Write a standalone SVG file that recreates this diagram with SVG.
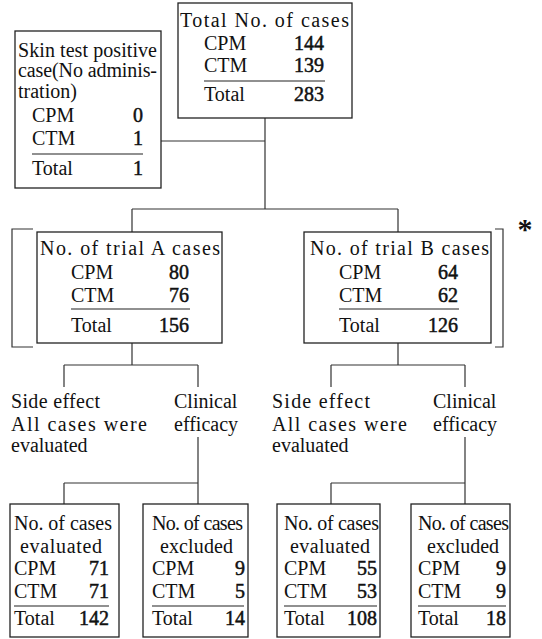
<svg xmlns="http://www.w3.org/2000/svg" width="542" height="639" viewBox="0 0 542 639">
<style>
.box{fill:none;stroke:#222;stroke-width:1.3}
.ln{fill:none;stroke:#333;stroke-width:1.2}
.rule{stroke:#222;stroke-width:1.2}
text{font-family:"Liberation Serif","Times New Roman",serif;font-size:20px;fill:#111}
.n{text-anchor:end;stroke:#111;stroke-width:0.5}
.ast{font-weight:bold;font-size:30px;text-anchor:middle}
</style>
<rect width="542" height="639" fill="#fff"/>
<g id="connectors">
<path class="ln" d="M161,141 H265 M265,118 V209 M132,209 H398 M132,209 V232 M398,209 V232"/>
<path class="ln" d="M132,343 V365 M64,365 H198 M64,365 V387 M198,365 V387 M198,437 V504 M64,483 H198 M64,483 V504"/>
<path class="ln" d="M398,343 V365 M331,365 H465 M331,365 V387 M465,365 V387 M465,437 V504 M331,483 H465 M331,483 V504"/>
<path class="ln" d="M33,229 H12 V347 H33 M495,229 H503 V347 H495"/>
<text class="ast" x="525" y="239">*</text>
</g>
<g id="total">
<rect class="box" x="178" y="3" width="174" height="115"/>
<text x="180" y="27" textLength="169" lengthAdjust="spacing">Total No. of cases</text>
<text x="204" y="50">CPM</text><text class="n" x="324" y="50">144</text>
<text x="204" y="72">CTM</text><text class="n" x="324" y="72">139</text>
<line class="rule" x1="204" y1="81" x2="325" y2="81"/>
<text x="204" y="101">Total</text><text class="n" x="324" y="101">283</text>
</g>
<g id="skin">
<rect class="box" x="15" y="31" width="146" height="157"/>
<text x="18" y="57" textLength="139" lengthAdjust="spacing">Skin test positive</text>
<text x="18" y="77" textLength="139" lengthAdjust="spacing">case(No adminis-</text>
<text x="18" y="98">tration)</text>
<text x="32" y="122">CPM</text><text class="n" x="143" y="122">0</text>
<text x="32" y="145">CTM</text><text class="n" x="143" y="145">1</text>
<line class="rule" x1="32" y1="154" x2="143" y2="154"/>
<text x="32" y="175">Total</text><text class="n" x="143" y="175">1</text>
</g>
<g id="trialA">
<rect class="box" x="37" y="232" width="185" height="111"/>
<text x="40" y="255" textLength="180" lengthAdjust="spacing">No. of trial A cases</text>
<text x="71" y="279">CPM</text><text class="n" x="189" y="279">80</text>
<text x="71" y="302">CTM</text><text class="n" x="189" y="302">76</text>
<line class="rule" x1="71" y1="309" x2="190" y2="309"/>
<text x="71" y="332">Total</text><text class="n" x="189" y="332">156</text>
</g>
<g id="trialB">
<rect class="box" x="304" y="232" width="187" height="111"/>
<text x="310" y="255" textLength="179" lengthAdjust="spacing">No. of trial B cases</text>
<text x="339" y="279">CPM</text><text class="n" x="458" y="279">64</text>
<text x="339" y="302">CTM</text><text class="n" x="458" y="302">62</text>
<line class="rule" x1="339" y1="309" x2="459" y2="309"/>
<text x="339" y="332">Total</text><text class="n" x="458" y="332">126</text>
</g>
<g id="sideA">
<text x="11" y="408" textLength="89" lengthAdjust="spacing">Side effect</text>
<text x="11" y="431" textLength="136" lengthAdjust="spacing">All cases were</text>
<text x="11" y="452">evaluated</text>
</g>
<g id="clinA">
<text x="174" y="408">Clinical</text>
<text x="174" y="431">efficacy</text>
</g>
<g id="sideB">
<text x="272" y="408" textLength="98" lengthAdjust="spacing">Side effect</text>
<text x="272" y="431" textLength="135" lengthAdjust="spacing">All cases were</text>
<text x="272" y="452">evaluated</text>
</g>
<g id="clinB">
<text x="433" y="408">Clinical</text>
<text x="433" y="431">efficacy</text>
</g>
<g id="evalA">
<rect class="box" x="10" y="504" width="109" height="133"/>
<text x="14" y="530" textLength="98" lengthAdjust="spacing">No. of cases</text>
<text x="20" y="553" textLength="82" lengthAdjust="spacing">evaluated</text>
<text x="14" y="575">CPM</text><text class="n" x="109" y="575">71</text>
<text x="14" y="598">CTM</text><text class="n" x="109" y="598">71</text>
<line class="rule" x1="14" y1="606" x2="109" y2="606"/>
<text x="14" y="625">Total</text><text class="n" x="109" y="625">142</text>
</g>
<g id="exclA">
<rect class="box" x="143" y="504" width="105" height="133"/>
<text x="152" y="530" textLength="91" lengthAdjust="spacing">No. of cases</text>
<text x="160" y="553" textLength="73" lengthAdjust="spacing">excluded</text>
<text x="152" y="575">CPM</text><text class="n" x="245" y="575">9</text>
<text x="152" y="598">CTM</text><text class="n" x="245" y="598">5</text>
<line class="rule" x1="152" y1="606" x2="244" y2="606"/>
<text x="152" y="625">Total</text><text class="n" x="245" y="625">14</text>
</g>
<g id="evalB">
<rect class="box" x="277" y="504" width="103" height="133"/>
<text x="284" y="530" textLength="95" lengthAdjust="spacing">No. of cases</text>
<text x="290" y="553" textLength="80" lengthAdjust="spacing">evaluated</text>
<text x="284" y="575">CPM</text><text class="n" x="377" y="575">55</text>
<text x="284" y="598">CTM</text><text class="n" x="377" y="598">53</text>
<line class="rule" x1="284" y1="606" x2="377" y2="606"/>
<text x="284" y="625">Total</text><text class="n" x="377" y="625">108</text>
</g>
<g id="exclB">
<rect class="box" x="411" y="504" width="99" height="133"/>
<text x="418" y="530" textLength="91" lengthAdjust="spacing">No. of cases</text>
<text x="427" y="553" textLength="72" lengthAdjust="spacing">excluded</text>
<text x="418" y="575">CPM</text><text class="n" x="506" y="575">9</text>
<text x="418" y="598">CTM</text><text class="n" x="506" y="598">9</text>
<line class="rule" x1="418" y1="606" x2="506" y2="606"/>
<text x="418" y="625">Total</text><text class="n" x="506" y="625">18</text>
</g>
</svg>
